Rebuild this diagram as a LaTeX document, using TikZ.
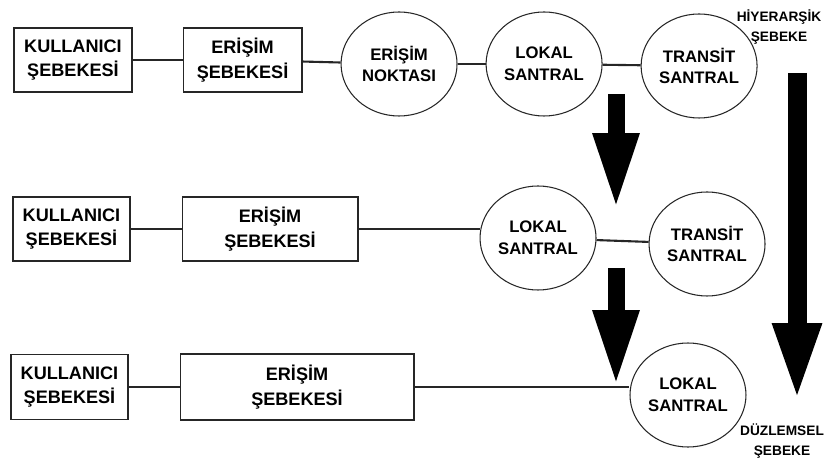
\documentclass[tikz,border=0pt]{standalone}
\usepackage{fontspec}
\setmainfont{Liberation Sans}
\usetikzlibrary{shapes.geometric, arrows.meta, positioning, calc}

\begin{document}
\begin{tikzpicture}[
    x=0.02cm, y=-0.02cm,
    % Network blocks (rectangles)
    netbox/.style={rectangle, draw=black!85, line width=0.6pt, minimum height=1.28cm,
                   align=center, inner sep=2pt,
                   font=\fontsize{10.3}{13.9}\selectfont\bfseries},
    % Access point and exchanges (ellipses)
    exch/.style={ellipse, draw=black!85, line width=0.6pt, minimum width=2.32cm,
                 minimum height=2.08cm, inner sep=0pt, align=center,
                 font=\fontsize{9.5}{12.3}\selectfont\bfseries},
    % Captions at the right-hand side
    sidelabel/.style={align=center, inner sep=0pt, font=\fontsize{7.8}{11.3}\selectfont\bfseries},
    link/.style={line width=1.2pt, black!85},
    bigarrow/.style={line width=0.34cm, black, -{Triangle[length=1.54cm, width=0.84cm]}},
    node distance=1cm
]
\useasboundingbox (0,0) rectangle (827,462);

%-------- ROW 1: HIERARCHICAL --------
\node[netbox, minimum width=2.36cm] (kul1) at (73,60) {KULLANICI\\ŞEBEKESİ};
\node[netbox, minimum width=2.38cm, right=1cm of kul1] (eri1) {ERİŞİM\\ŞEBEKESİ};
\node[exch, right=0.76cm of eri1, yshift=-0.08cm] (nok1) {ERİŞİM\\NOKTASI};
\node[exch, right=0.56cm of nok1] (lok1) {LOKAL\\SANTRAL};
\node[exch, right=0.76cm of lok1, yshift=-0.04cm] (tra1) {TRANSİT\\SANTRAL};

\draw[link] (kul1) -- (eri1);
\draw[link] (eri1) -- (nok1);
\draw[link] (nok1) -- (lok1);
\draw[link] (lok1) -- (tra1);

%-------- ROW 2 --------
\node[netbox, minimum width=2.34cm] (kul2) at (71.5,229) {KULLANICI\\ŞEBEKESİ};
\node[netbox, minimum width=3.52cm, right=1.02cm of kul2] (eri2) {ERİŞİM\\ŞEBEKESİ};
\node[exch, right=2.42cm of eri2, yshift=-0.18cm] (lok2) {LOKAL\\SANTRAL};
\node[exch, right=1.04cm of lok2, yshift=-0.12cm] (tra2) {TRANSİT\\SANTRAL};

\draw[link] (kul2) -- (eri2);
\draw[link] (eri2.east) -- (eri2.east -| lok2.west);
\draw[link] (lok2) -- (tra2);

%-------- ROW 3: FLAT --------
\node[netbox, minimum width=2.34cm, minimum height=1.3cm] (kul3) at (69.5,387) {KULLANICI\\ŞEBEKESİ};
\node[netbox, minimum width=4.68cm, minimum height=1.32cm, right=1.02cm of kul3] (eri3) {ERİŞİM\\ŞEBEKESİ};
\node[exch, right=4.3cm of eri3, yshift=-0.16cm] (lok3) {LOKAL\\SANTRAL};

\draw[link] (kul3) -- (eri3);
\draw[link] (eri3.east) -- (eri3.east -| lok3.west);

%-------- STEP ARROWS --------
\coordinate (top1) at (616,94);
\coordinate (tip1) at (616,210);
\coordinate (top2) at (616,268);
\coordinate (tip2) at (616,387);
\draw[bigarrow] (top1) -- (tip1);
\draw[bigarrow] (top2) -- (tip2);

%-------- HIERARCHICAL -> FLAT --------
\node[sidelabel] (hier) at (779,27) {HİYERARŞİK\\ŞEBEKE};
\node[sidelabel] (flat) at (782,441) {DÜZLEMSEL\\ŞEBEKE};
\coordinate (rtop) at (797,73);
\coordinate (rtip) at (797,402);
\draw[bigarrow, line width=0.38cm, -{Triangle[length=1.58cm, width=0.88cm]}] (rtop) -- (rtip);

\end{tikzpicture}
\end{document}
